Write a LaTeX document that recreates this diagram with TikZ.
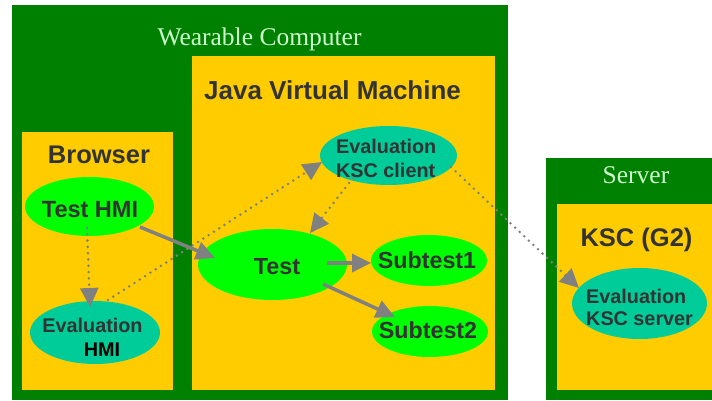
\documentclass[tikz,border=0pt]{standalone}
\usepackage{fontspec}
\setmainfont{Liberation Serif}
\setsansfont{Liberation Sans}
\usetikzlibrary{shapes.geometric,arrows.meta,calc}
\definecolor{boxgreen}{RGB}{0,128,0}
\definecolor{boxyellow}{RGB}{255,204,0}
\definecolor{brightgreen}{RGB}{0,255,0}
\definecolor{teal}{RGB}{0,204,153}
\definecolor{darktext}{RGB}{51,51,51}
\definecolor{lighttext}{RGB}{204,255,204}
\definecolor{arrowgray}{RGB}{128,128,128}
\tikzset{
  outerbox/.style={fill=boxgreen},
  innerbox/.style={fill=boxyellow},
  titleserif/.style={font=\rmfamily\fontsize{25.5}{30}\selectfont, text=lighttext, inner sep=0pt, anchor=base},
  titlesans/.style={font=\sffamily\bfseries\fontsize{25.5}{30}\selectfont, text=darktext, inner sep=0pt, anchor=base},
  greenell/.style={ellipse, fill=brightgreen, inner sep=0pt},
  tealell/.style={ellipse, fill=teal, inner sep=0pt},
  bigtext/.style={font=\sffamily\bfseries\fontsize{23.3}{28}\selectfont, text=darktext, inner sep=0pt, anchor=base},
  smalltext/.style={font=\sffamily\bfseries\fontsize{19.8}{24}\selectfont, text=darktext, inner sep=0pt},
  bigtip/.style={-{Triangle[length=19pt,width=18pt]}},
  solidarr/.style={draw=arrowgray, line width=3.5pt, bigtip},
  dotarr/.style={draw=arrowgray, line width=2.8pt, line cap=round, dash pattern=on 0pt off 6.3pt, bigtip}
}
\begin{document}
\begin{tikzpicture}[x=1pt,y=-1pt]
\useasboundingbox (0,0) rectangle (712,400);
% containers
\fill[outerbox] (12,5) rectangle (508,400);
\fill[innerbox] (22,132) rectangle (173,390);
\fill[innerbox] (192,56) rectangle (495,390);
\fill[outerbox] (546,158) rectangle (712,400);
\fill[innerbox] (557,204) rectangle (712,390);
% titles
\node[titleserif] (wc) at (259.5,45) {Wearable Computer};
\node[titlesans, anchor=base west, font=\sffamily\bfseries\fontsize{26}{30}\selectfont] (jvm) at (204,99) {Java Virtual Machine};
\node[titlesans] (br) at (99,163) {Browser};
\node[titleserif] (srv) at (636,183) {Server};
\node[titlesans] (ksc) at (636.5,246) {KSC (G2)};
% ellipses
\node[greenell, minimum width=129pt, minimum height=59pt] (thmi) at (89.5,206.5) {};
\node[tealell, minimum width=130pt, minimum height=63pt] (ehmi) at (95,332.5) {};
\node[greenell, minimum width=149pt, minimum height=71pt] (test) at (272.5,264.5) {};
\node[greenell, minimum width=116pt, minimum height=51pt] (sub1) at (429,260.5) {};
\node[greenell, minimum width=116pt, minimum height=51pt] (sub2) at (430,331.5) {};
\node[tealell, minimum width=137pt, minimum height=59pt] (kscc) at (388.5,155.5) {};
\node[tealell, minimum width=135pt, minimum height=71pt] (kscs) at (639.5,303.5) {};
% ellipse texts
\node[bigtext, font=\sffamily\bfseries\fontsize{23.5}{28}\selectfont] (thmit) at (90,217) {Test HMI};
\node[smalltext, anchor=base] (ehmit1) at (92.5,332) {Evaluation};
\node[smalltext, anchor=base, text=black] (ehmit2) at (102,356) {HMI};
\node[bigtext] (testt) at (277,274) {Test};
\node[bigtext] (sub1t) at (427,268) {Subtest1};
\node[bigtext] (sub2t) at (428,338) {Subtest2};
\node[smalltext, anchor=base west] (kscct1) at (336,153) {Evaluation};
\node[smalltext, anchor=base west] (kscct2) at (336,177) {KSC client};
\node[smalltext, anchor=base west] (kscst1) at (586,303) {Evaluation};
\node[smalltext, anchor=base west] (kscst2) at (586,325) {KSC server};
% connectors
\draw[solidarr] ($(thmi.center)+(50.5,20.5)$) -- ($(test.center)+(-57.5,-6.5)$);
\draw[dotarr] ($(thmi.center)+(-2.5,21.5)$) -- ($(ehmi.center)+(-5,-25.5)$);
\draw[dotarr] ($(ehmi.center)+(13,-32.5)$) -- ($(kscc.center)+(-66.5,6.5)$);
\draw[dotarr] ($(kscc.center)+(-35.5,22.5)$) -- ($(test.center)+(37.5,-31.5)$);
\draw[solidarr] ($(test.center)+(54.5,-1.5)$) -- ($(sub1.center)+(-58,2.5)$);
\draw[solidarr] ($(test.center)+(50.5,19.5)$) -- ($(sub2.center)+(-35,-14.5)$);
\draw[dotarr] ($(kscc.center)+(62.5,11.5)$) -- ($(kscs.center)+(-60.5,-15.5)$);
\end{tikzpicture}
\end{document}
